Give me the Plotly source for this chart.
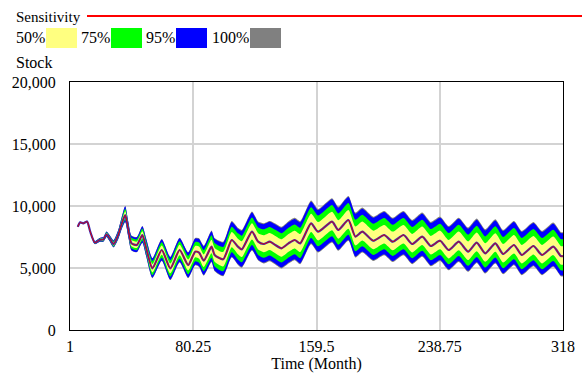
import plotly.graph_objects as go

# ---- data ----
time = [6, 7.5, 9.5, 12, 14, 17, 20, 22.5, 24.5, 26.5, 29, 32, 34, 36.5, 38.5, 40.5, 44, 47.5,
        50, 54, 60, 65.5, 71.5, 77, 81.5, 84, 87, 92, 94, 99.5, 105, 109, 111.5, 118, 122,
        125.5, 129.5, 133, 137, 141.5, 145.5, 149, 156, 160.5, 169.5, 173.5, 180, 184.5, 189,
        196, 203, 208.5, 215.5, 221, 227.5, 233, 239, 244.5, 251, 257, 262.5, 268, 274.5,
        279.5, 286.5, 291.5, 299, 304.5, 311.8, 316.5, 318]
stock = [8330, 8680, 8600, 8740, 7930, 7040, 7260, 7310, 7720, 7390, 6930, 7660, 8470, 9270,
         8065, 6990, 6855, 7660, 6590, 4970, 6450, 4970, 6450, 5240, 6320, 6240, 5590, 6720,
         6050, 5700, 7260, 6720, 6500, 7930, 7120, 6935, 7120, 6855, 6590, 6990, 7260, 6990,
         8600, 7930, 8740, 8065, 8870, 7530, 7930, 7200, 7660, 7120, 7660, 6935, 7530, 6775,
         7200, 6450, 7120, 6320, 7040, 6180, 6990, 6130, 6855, 6050, 6775, 6050, 6720, 5970, 5950]
# distance from the base run to the upper / lower edge of the 95% band
up95 = [40, 50, 60, 70, 90, 110, 150, 180, 220, 250, 300, 380, 500, 700, 650, 600, 620, 700,
        750, 800, 850, 900, 950, 1000, 1050, 1100, 1150, 1250, 1300, 1350, 1450, 1450, 1500,
        1550, 1550, 1600, 1600, 1650, 1650, 1700, 1700, 1700, 1750, 1750, 1800, 1800, 1850,
        1850, 1850, 1850, 1850, 1850, 1850, 1850, 1850, 1850, 1850, 1850, 1850, 1850, 1850,
        1850, 1850, 1850, 1850, 1850, 1850, 1850, 1850, 1850, 1850]
dn95 = [40, 50, 60, 70, 90, 110, 150, 180, 200, 230, 260, 320, 400, 550, 550, 550, 560, 600,
        650, 750, 850, 900, 950, 1000, 1050, 1100, 1150, 1200, 1250, 1300, 1350, 1400, 1400,
        1450, 1450, 1500, 1500, 1500, 1550, 1550, 1550, 1600, 1600, 1600, 1600, 1600, 1600,
        1600, 1600, 1550, 1550, 1550, 1550, 1550, 1550, 1550, 1550, 1550, 1550, 1550, 1550,
        1550, 1550, 1550, 1550, 1550, 1550, 1550, 1550, 1550, 1550]
band_share = {"100%": 1.05, "95%": 1.0, "75%": 0.74, "50%": 0.44}
band_color = {"100%": "#808080", "95%": "#0000FF", "75%": "#00FF00", "50%": "#FFFF80"}
legend_labels = ["50%", "75%", "95%", "100%"]
xtick_vals = [1, 80.25, 159.5, 238.75, 318]
xtick_text = ["1", "80.25", "159.5", "238.75", "318"]
ytick_vals = [0, 5000, 10000, 15000, 20000]

W, H = 582, 374
L, R, T, B = 70, 563, 82, 330
FONT = "Times New Roman, Tinos, Liberation Serif, DejaVu Serif, serif"
LINE = dict(shape="spline", smoothing=0.6)

fig = go.Figure()
for name in ["100%", "95%", "75%", "50%"]:
    k = band_share[name]
    lo = [s - k * d for s, d in zip(stock, dn95)]
    hi = [s + k * u for s, u in zip(stock, up95)]
    fig.add_trace(go.Scatter(x=time, y=lo, mode="lines",
                             line=dict(width=0, color=band_color[name], **LINE),
                             showlegend=False, hoverinfo="skip"))
    fig.add_trace(go.Scatter(x=time, y=hi, mode="lines",
                             line=dict(width=0, color=band_color[name], **LINE),
                             fill="tonexty", fillcolor=band_color[name], showlegend=False,
                             hoverinfo="skip"))
fig.add_trace(go.Scatter(x=time, y=stock, mode="lines",
                         line=dict(color="#3030C0", width=2.2, **LINE), showlegend=False))
fig.add_trace(go.Scatter(x=time, y=stock, mode="lines",
                         line=dict(color="#E00000", width=1, **LINE), showlegend=False))

# pixel -> paper coordinates (paper = plot area)
def px(x):
    return (x - L) / (R - L)

def py(y):
    return (B - y) / (B - T)

shapes = []
annotations = []
annotations.append(dict(text="Sensitivity", x=px(14), y=py(17), xref="paper", yref="paper",
                        xanchor="left", yanchor="middle", showarrow=False,
                        font=dict(family=FONT, size=15, color="black")))
shapes.append(dict(type="line", xref="paper", yref="paper", x0=px(87), x1=px(582),
                   y0=py(16), y1=py(16), line=dict(color="#FF0000", width=2)))
lx = [14, 79, 144, 210]
bx = [46, 111, 176, 250]
for lab, x0, b0 in zip(legend_labels, lx, bx):
    annotations.append(dict(text=lab, x=px(x0), y=py(38), xref="paper", yref="paper",
                            xanchor="left", yanchor="middle", showarrow=False,
                            font=dict(family=FONT, size=16, color="black")))
    shapes.append(dict(type="rect", xref="paper", yref="paper", x0=px(b0), x1=px(b0 + 31),
                       y0=py(48), y1=py(28), fillcolor=band_color[lab], line=dict(width=0)))
annotations.append(dict(text="Stock", x=px(14), y=py(63), xref="paper", yref="paper",
                        xanchor="left", yanchor="middle", showarrow=False,
                        font=dict(family=FONT, size=16, color="black")))

fig.update_layout(
    width=W, height=H, autosize=False,
    margin=dict(l=L, r=W - R, t=T, b=H - B, pad=0, autoexpand=False),
    paper_bgcolor="white", plot_bgcolor="white",
    font=dict(family=FONT, size=16, color="black"),
    shapes=shapes, annotations=annotations, showlegend=False,
    xaxis=dict(range=[1, 318], tickvals=xtick_vals, ticktext=xtick_text, showgrid=True,
               gridcolor="#D3D3D3", gridwidth=2, zeroline=False, showline=True, linecolor="black",
               linewidth=1, mirror=True, ticks="", ticklabelstandoff=2, automargin=False,
               tickfont=dict(family=FONT, size=16),
               title=dict(text="Time (Month)", standoff=2, font=dict(family=FONT, size=16))),
    yaxis=dict(range=[0, 20000], tickvals=ytick_vals, tickformat=",d", showgrid=True,
               gridcolor="#D3D3D3", gridwidth=2, zeroline=False, showline=True, linecolor="black",
               linewidth=1, mirror=True, ticks="", ticklabelstandoff=10, automargin=False,
               tickfont=dict(family=FONT, size=16)),
)
fig.write_html("out.html", config={"displayModeBar": False},
               post_script="document.body.style.margin='0';")
